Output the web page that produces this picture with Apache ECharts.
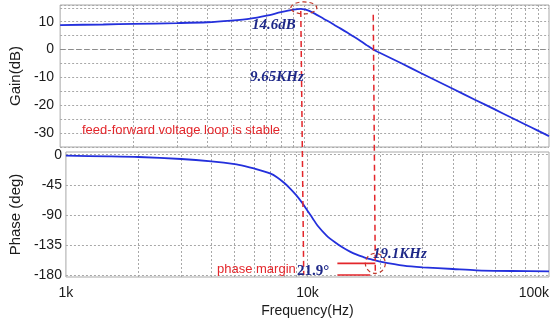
<!DOCTYPE html>
<html>
<head>
<meta charset="utf-8">
<script src="https://cdn.jsdelivr.net/npm/echarts@6/dist/echarts.min.js"></script>
<style>
  html, body { margin: 0; padding: 0; background: #fff; }
  #chart { width: 557px; height: 326px; }
</style>
</head>
<body>
<div id="chart"></div>
<script>
// Bode plot of the feed-forward voltage loop (gain and phase vs. frequency)

// Gain curve
const gainFreqHz = [1000, 1500, 2000, 3000, 4000, 5000, 6000, 7000, 8000, 9000, 9650, 10000, 10500, 11000, 12000, 13000, 14000, 15000, 16000, 17000, 18000, 19100, 20000, 25000, 30000, 40000, 50000, 60000, 70000, 80000, 90000, 100000];
const gainDb = [8.8, 9.0, 9.2, 9.5, 9.8, 10.4, 11.1, 12.2, 13.4, 14.3, 14.6, 14.4, 13.8, 12.9, 11.0, 9.3, 7.6, 6.0, 4.5, 3.0, 1.5, 0, -0.9, -5.0, -8.5, -13.9, -18.1, -21.5, -24.4, -26.9, -29.1, -31.1];

// Phase curve
const phaseFreqHz = [1000, 1500, 2000, 3000, 4000, 5000, 5500, 6000, 7000, 7500, 8000, 8500, 9000, 9500, 10000, 10500, 11000, 12000, 13000, 14000, 15000, 16000, 17000, 18000, 19100, 20000, 25000, 30000, 40000, 50000, 70000, 100000];
const phaseDeg = [-1.5, -2.5, -3.5, -6.5, -10, -14, -17, -20.5, -28, -34, -42, -51, -61, -72, -84, -95, -106, -121, -131, -139, -145, -149.5, -153, -156, -158.1, -160, -166, -168.5, -171, -173, -174, -174.5];

// Axis ticks and grid lines
const freqTickLabels = { 1000: '1k', 10000: '10k', 100000: '100k' };
const freqGridHz = [2000, 3000, 4000, 5000, 6000, 7000, 8000, 9000, 10000, 20000, 30000, 40000, 50000, 60000, 70000, 80000, 90000];
const gainTicks = [10, 0, -10, -20, -30];
const phaseTicks = [0, -45, -90, -135, -180];

// Marked points
const peakFreqHz = 9650;
const peakGainDb = 14.6;
const crossFreqHz = 19100;
const crossPhaseDeg = -158.1;

const BLUE = '#2430dc';
const RED = '#e3262b';
const NAVY = '#1e2888';
const GRID_C = '#a8a8a8';
const SANS = '"Liberation Sans", Arial, sans-serif';
const SERIF = '"Liberation Serif", "Times New Roman", serif';

const dotted = { color: GRID_C, width: 1, type: [2, 2] };

function vLines() {
  return freqGridHz.map(f => ({ xAxis: f }));
}

const chart = echarts.init(document.getElementById('chart'), null, { renderer: 'canvas' });

const option = {
  animation: false,
  backgroundColor: '#fff',
  grid: [
    { left: 55, right: 8, top: 5, height: 142, show: true, borderColor: GRID_C, borderWidth: 1, backgroundColor: 'transparent' },
    { left: 55, right: 8, top: 152, height: 125, show: true, borderColor: GRID_C, borderWidth: 1, backgroundColor: 'transparent' }
  ],
  xAxis: [
    {
      type: 'log', logBase: 10, gridIndex: 0, min: 1000, max: 100000,
      axisLine: { show: false }, axisTick: { show: false }, axisLabel: { show: false },
      splitLine: { show: false }
    },
    {
      type: 'log', logBase: 10, gridIndex: 1, min: 1000, max: 100000,
      axisLine: { show: false }, axisTick: { show: false },
      axisLabel: {
        color: '#1a1a1a', fontFamily: SANS, fontSize: 14, margin: 9,
        alignMinLabel: 'left', alignMaxLabel: 'right',
        formatter: v => freqTickLabels[Math.round(v)] || ''
      },
      splitLine: { show: false },
      name: 'Frequency(Hz)', nameLocation: 'middle', nameGap: 27,
      nameTextStyle: { color: '#1a1a1a', fontFamily: SANS, fontSize: 14 }
    }
  ],
  yAxis: [
    {
      type: 'value', gridIndex: 0, min: -35, max: 16, interval: 5,
      axisLine: { show: false }, axisTick: { show: false },
      axisLabel: {
        color: '#1a1a1a', fontFamily: SANS, fontSize: 14, margin: 6,
        formatter: v => (gainTicks.indexOf(v) >= 0 ? String(v) : '')
      },
      splitLine: { show: true, lineStyle: dotted },
      name: 'Gain(dB)', nameLocation: 'middle', nameGap: 32, nameRotate: 90,
      nameTextStyle: { color: '#1a1a1a', fontFamily: SANS, fontSize: 15 }
    },
    {
      type: 'value', gridIndex: 1, min: -183, max: 4, interval: 1,
      axisLine: { show: false }, axisTick: { show: false },
      axisLabel: {
        color: '#1a1a1a', fontFamily: SANS, fontSize: 14, margin: 4,
        formatter: v => (phaseTicks.indexOf(v) >= 0 ? String(v) : '')
      },
      splitLine: { show: false },
      name: 'Phase (deg)', nameLocation: 'middle', nameGap: 32, nameRotate: 90,
      nameTextStyle: { color: '#1a1a1a', fontFamily: SANS, fontSize: 15 }
    }
  ],
  series: [
    {
      name: 'Gain', type: 'line', xAxisIndex: 0, yAxisIndex: 0,
      data: gainFreqHz.map((f, i) => [f, gainDb[i]]),
      showSymbol: false, smooth: 0.25, z: 5,
      lineStyle: { color: BLUE, width: 1.8 },
      markLine: {
        silent: true, symbol: 'none', label: { show: false }, z: 1,
        lineStyle: dotted,
        data: vLines().concat([{ yAxis: 0, lineStyle: { color: '#8c8c8c', width: 1, type: [5, 3] } }])
      }
    },
    {
      name: 'Phase', type: 'line', xAxisIndex: 1, yAxisIndex: 1,
      data: phaseFreqHz.map((f, i) => [f, phaseDeg[i]]),
      showSymbol: false, smooth: 0.25, z: 5,
      lineStyle: { color: BLUE, width: 1.8 },
      markLine: {
        silent: true, symbol: 'none', label: { show: false }, z: 1,
        lineStyle: dotted,
        data: vLines().concat(phaseTicks.map(v => ({ yAxis: v })))
      }
    }
  ]
};

chart.setOption(option);

// Annotations placed through the axes' own scales
const g = (f, v) => chart.convertToPixel({ gridIndex: 0 }, [f, v]);
const p = (f, v) => chart.convertToPixel({ gridIndex: 1 }, [f, v]);

const peak = g(peakFreqHz, peakGainDb);
const peakBottom = p(peakFreqHz, -180);
const crossTop = g(crossFreqHz, 12.5);
const cross = p(crossFreqHz, crossPhaseDeg);
const crossBottom = p(crossFreqHz, -180);
const marginStart = p(13300, crossPhaseDeg);
const marginBottomEnd = p(18200, -180);

const dash = { stroke: RED, lineWidth: 1.5, lineDash: [6, 4] };
const solid = { stroke: RED, lineWidth: 1.6 };
const ring = { fill: 'none', stroke: '#c0392b', lineWidth: 1.2, lineDash: [4, 3] };
const navyItalic = 'italic bold 15px ' + SERIF;

chart.setOption({
  graphic: [
    { type: 'line', z: 20, shape: { x1: peak[0], y1: peak[1] + 2, x2: peakBottom[0], y2: peakBottom[1] }, style: dash },
    { type: 'line', z: 20, shape: { x1: crossTop[0], y1: crossTop[1], x2: crossBottom[0], y2: crossBottom[1] }, style: dash },
    { type: 'ellipse', z: 20, shape: { cx: peak[0] + 3, cy: peak[1] - 1, rx: 13, ry: 6 }, style: ring },
    { type: 'circle', z: 20, shape: { cx: cross[0], cy: cross[1] + 3, r: 10 }, style: ring },
    { type: 'line', z: 20, shape: { x1: marginStart[0], y1: cross[1] + 3, x2: cross[0], y2: cross[1] + 3 }, style: solid },
    { type: 'line', z: 20, shape: { x1: marginStart[0], y1: crossBottom[1], x2: marginBottomEnd[0], y2: marginBottomEnd[1] }, style: solid },
    { type: 'text', z: 30, x: 252, y: 25, style: { text: '14.6dB', fill: NAVY, font: navyItalic, textVerticalAlign: 'middle' } },
    { type: 'text', z: 30, x: 250, y: 77, style: { text: '9.65KHz', fill: NAVY, font: navyItalic, textVerticalAlign: 'middle' } },
    { type: 'text', z: 30, x: 82, y: 130, style: { text: 'feed-forward voltage loop is stable', fill: RED, font: '13px ' + SANS, textVerticalAlign: 'middle' } },
    { type: 'text', z: 30, x: 217, y: 269, style: { text: 'phase margin', fill: RED, font: '13px ' + SANS, textVerticalAlign: 'middle' } },
    { type: 'text', z: 30, x: 297, y: 271, style: { text: '21.9°', fill: NAVY, font: 'bold 15px ' + SERIF, textVerticalAlign: 'middle' } },
    { type: 'text', z: 30, x: 373, y: 254, style: { text: '19.1KHz', fill: NAVY, font: navyItalic, textVerticalAlign: 'middle' } }
  ]
});
</script>
</body>
</html>
